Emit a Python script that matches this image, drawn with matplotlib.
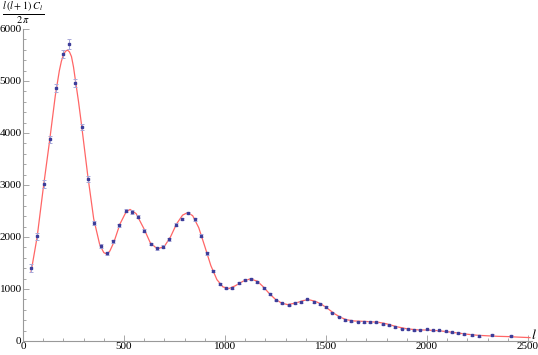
import numpy as np
import matplotlib.pyplot as plt
from matplotlib.ticker import MultipleLocator

# binned data points (multipole l, D_l, error)
ell = [40, 70, 104, 134, 163, 196, 229, 259, 290, 323, 353, 385, 414, 446, 477,
       508, 540, 571, 601, 632, 663, 695, 724, 756, 789, 818, 850, 881, 911, 942,
       974, 1005, 1036, 1068, 1098, 1129, 1160, 1192, 1221, 1254, 1284, 1315,
       1347, 1376, 1408, 1439, 1470, 1502, 1531, 1563, 1594, 1625, 1657, 1688,
       1718, 1749, 1781, 1812, 1842, 1875, 1905, 1936, 1967, 1999, 2030, 2061,
       2093, 2124, 2153, 2185, 2221, 2259, 2320, 2417]
dl = [1400, 2010, 3020, 3880, 4870, 5525, 5710, 4960, 4120, 3115, 2275, 1830,
      1690, 1915, 2225, 2505, 2480, 2390, 2120, 1865, 1780, 1815, 1955, 2240,
      2345, 2460, 2340, 2025, 1685, 1350, 1100, 1010, 1025, 1110, 1165, 1200,
      1130, 1025, 900, 780, 725, 685, 735, 745, 800, 755, 715, 650, 545, 470,
      405, 380, 370, 365, 365, 360, 320, 300, 268, 237, 225, 205, 217, 225,
      205, 205, 185, 167, 155, 130, 120, 95, 115, 95]
err = [80, 70, 70, 70, 75, 80, 95, 70, 60, 50, 40, 35, 30, 30, 30, 30, 30, 30,
       28, 26, 25, 25, 25, 25, 25, 25, 25, 24, 22, 20, 18, 18, 18, 18, 18, 18,
       18, 17, 16, 15, 15, 15, 15, 15, 15, 15, 15, 14, 14, 14, 14, 14, 14, 14,
       14, 14, 14, 14, 14, 14, 14, 14, 14, 15, 15, 15, 15, 15, 16, 16, 16, 18,
       18, 20]

# theory curve
curve_l = [40, 70, 100, 130, 160, 180, 190, 200, 210, 220, 230, 240, 250, 260,
           275, 290, 320, 350, 380, 400, 415, 430, 450, 480, 510, 530, 560, 600,
           630, 665, 700, 730, 760, 790, 815, 840, 870, 900, 930, 960, 990,
           1020, 1050, 1090, 1125, 1160, 1190, 1220, 1250, 1280, 1310, 1350,
           1390, 1420, 1450, 1480, 1510, 1540, 1570, 1600, 1640, 1700, 1760,
           1800, 1850, 1900, 1950, 2000, 2050, 2100, 2150, 2200, 2250, 2300,
           2350, 2400, 2450, 2510]
curve_d = [1330, 2000, 2930, 3800, 4720, 5200, 5380, 5500, 5570, 5595, 5560,
           5470, 5270, 5000, 4600, 4150, 3200, 2350, 1850, 1700, 1670, 1730,
           1900, 2250, 2480, 2530, 2450, 2150, 1890, 1770, 1820, 2000, 2250,
           2420, 2470, 2410, 2180, 1820, 1450, 1180, 1040, 1010, 1060, 1150,
           1195, 1150, 1040, 910, 800, 730, 700, 730, 780, 790, 760, 700, 620,
           530, 460, 410, 385, 375, 360, 330, 275, 235, 215, 210, 200, 180, 155,
           130, 110, 100, 90, 85, 75, 65]

plt.rcParams['font.family'] = 'Liberation Serif'
plt.rcParams['mathtext.fontset'] = 'stix'

fig = plt.figure(figsize=(5.38, 3.55), dpi=100)
ax = fig.add_axes([23/538, 14/355, 509/538, 312/355])

ax.plot(curve_l, curve_d, color='#ff6666', lw=0.9, zorder=2)
ax.errorbar(ell, dl, yerr=err, fmt='s', ms=2.0, color='#3d3d99',
            ecolor='#a8a8d8', elinewidth=0.7, capsize=1.5, capthick=0.7,
            zorder=3)

ax.set_xlim(0, 2520)
ax.set_ylim(0, 6000)
ax.xaxis.set_major_locator(MultipleLocator(500))
ax.xaxis.set_minor_locator(MultipleLocator(100))
ax.yaxis.set_major_locator(MultipleLocator(1000))
ax.yaxis.set_minor_locator(MultipleLocator(200))

for s in ['top', 'right']:
    ax.spines[s].set_visible(False)
for s in ['left', 'bottom']:
    ax.spines[s].set_color('#999999')
    ax.spines[s].set_linewidth(0.8)

ax.tick_params(which='both', direction='in', color='#999999', width=0.6,
               labelsize=8, pad=1)
ax.tick_params(which='major', length=4)
ax.tick_params(which='minor', length=2)

fig.text(0.004, 0.999, r'$\frac{l\,(l+1)\;C_l}{2\,\pi}$', fontsize=10.5,
         ha='left', va='top')
fig.text(0.987, 0.055, r'$l$', fontsize=10, ha='left', va='center')

fig.savefig('out.png', dpi=100)
